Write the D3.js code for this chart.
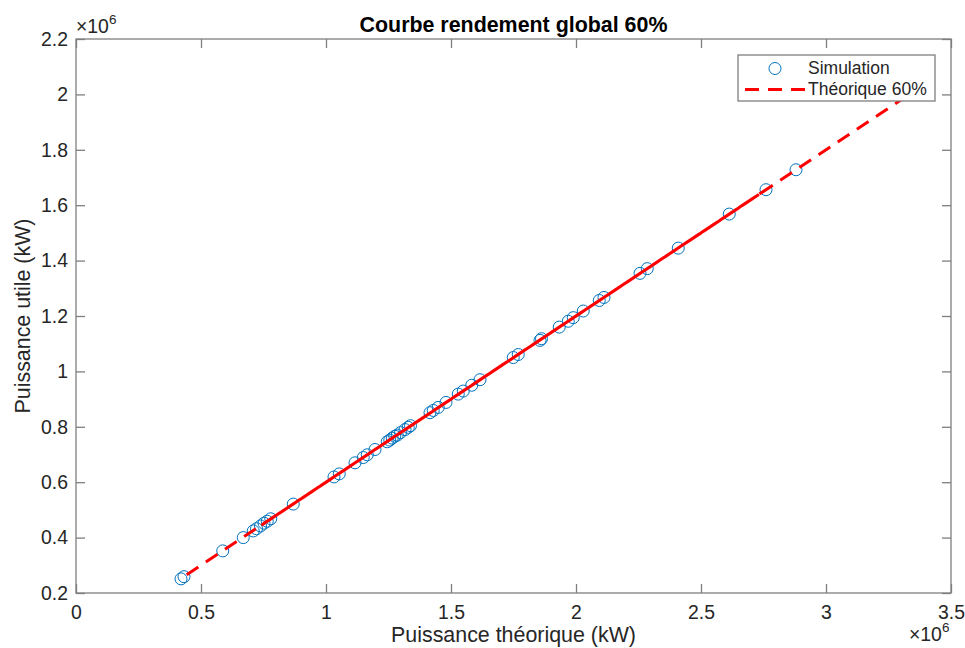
<!DOCTYPE html>
<html>
<head>
<meta charset="utf-8">
<script src="https://cdn.jsdelivr.net/npm/d3@7"></script>
<style>
  body { margin: 0; background: #fff; }
  svg { display: block; font-family: "Liberation Sans", Arial, Helvetica, sans-serif; }
  .tick text { fill: #262626; font-size: 19.4px; }
  .tick line { stroke: #7f7f7f; stroke-width: 1.3; }
  .domain { display: none; }
</style>
</head>
<body>
<svg id="chart" width="965" height="648"></svg>
<script>
// Values in units of 10^6 kW (the axes carry the x10^6 exponent)
const simX = [0.420, 0.432, 0.587, 0.669, 0.709, 0.722, 0.738, 0.752, 0.765, 0.779,
              0.869, 1.032, 1.053, 1.116, 1.149, 1.165, 1.196, 1.245, 1.255, 1.265,
              1.275, 1.285, 1.298, 1.316, 1.329, 1.338, 1.416, 1.429, 1.449, 1.480,
              1.529, 1.549, 1.583, 1.616, 1.749, 1.769, 1.856, 1.862, 1.933, 1.969,
              1.989, 2.029, 2.093, 2.112, 2.256, 2.285, 2.409, 2.613, 2.760, 2.880];
const simY = [0.251, 0.259, 0.352, 0.400, 0.424, 0.432, 0.442, 0.452, 0.459, 0.468,
              0.521, 0.619, 0.630, 0.670, 0.689, 0.699, 0.718, 0.746, 0.752, 0.759,
              0.766, 0.770, 0.779, 0.790, 0.798, 0.804, 0.851, 0.859, 0.870, 0.888,
              0.918, 0.929, 0.950, 0.970, 1.050, 1.061, 1.112, 1.118, 1.160, 1.181,
              1.194, 1.218, 1.256, 1.267, 1.354, 1.371, 1.445, 1.568, 1.656, 1.728];

// Theoretical 60% curve, vertices in the (unsorted) order it was traced
const theoX = [3.40, 0.73, 2.76, 0.74, 2.70, 0.75, 2.74, 0.77, 2.72, 0.43];
const theoY = [2.040, 0.438, 1.656, 0.444, 1.620, 0.450, 1.644, 0.462, 1.632, 0.258];

const xTicks = [0, 0.5, 1, 1.5, 2, 2.5, 3, 3.5];
const yTicks = [0.2, 0.4, 0.6, 0.8, 1, 1.2, 1.4, 1.6, 1.8, 2, 2.2];

const titleText = 'Courbe rendement global 60%';
const xLabel = 'Puissance théorique (kW)';
const yLabel = 'Puissance utile (kW)';
const legendLabels = ['Simulation', 'Théorique 60%'];

const svg = d3.select('#chart');
const margin = {top: 39, right: 14, bottom: 55, left: 76};
const width = +svg.attr('width'), height = +svg.attr('height');
const innerWidth = width - margin.left - margin.right;
const innerHeight = height - margin.top - margin.bottom;

const chart = svg.append('g')
    .attr('transform', `translate(${margin.left},${margin.top})`);

const xScale = d3.scaleLinear().domain([0, 3.5]).range([0, innerWidth]);
const yScale = d3.scaleLinear().domain([0.2, 2.2]).range([innerHeight, 0]);

// Axes: ticks point inward, mirrored on top and right (box on)
const fmt = d3.format('~g');
chart.append('g').attr('transform', `translate(0,${innerHeight})`)
    .call(d3.axisBottom(xScale).tickValues(xTicks).tickFormat(fmt).tickSize(-9).tickPadding(12));
chart.append('g')
    .call(d3.axisLeft(yScale).tickValues(yTicks).tickFormat(fmt).tickSize(-9).tickPadding(8));
chart.append('g')
    .call(d3.axisTop(xScale).tickValues(xTicks).tickSize(-9))
    .call(g => g.selectAll('text').remove());
chart.append('g').attr('transform', `translate(${innerWidth},0)`)
    .call(d3.axisRight(yScale).tickValues(yTicks).tickSize(-9))
    .call(g => g.selectAll('text').remove());

chart.append('rect')
    .attr('width', innerWidth).attr('height', innerHeight)
    .attr('fill', 'none').attr('stroke', '#7f7f7f').attr('stroke-width', 1.3);

// Simulation markers
const sim = simX.map((x, i) => ({x, y: simY[i]}));
chart.selectAll('circle.sim').data(sim).join('circle')
    .attr('class', 'sim')
    .attr('cx', d => xScale(d.x))
    .attr('cy', d => yScale(d.y))
    .attr('r', 6)
    .attr('fill', 'none')
    .attr('stroke', '#0072BD')
    .attr('stroke-width', 1);

// Theoretical line on top
const theo = theoX.map((x, i) => ({x, y: theoY[i]}));
const lineGen = d3.line().x(d => xScale(d.x)).y(d => yScale(d.y));
chart.append('path')
    .datum(theo)
    .attr('d', lineGen)
    .attr('fill', 'none')
    .attr('stroke', '#ff0000')
    .attr('stroke-width', 3)
    .attr('stroke-dasharray', '14,9');

// Exponent labels
const expo = (x, y) => {
    const t = svg.append('text').attr('x', x).attr('y', y)
        .attr('fill', '#262626').style('font-size', '19.4px');
    t.append('tspan').text('×10');
    t.append('tspan').text('6').attr('dy', -9).style('font-size', '13.5px');
};
expo(margin.left, 32.5);
expo(909, 641);

// Title and axis labels
svg.append('text')
    .attr('x', margin.left + innerWidth / 2).attr('y', 32)
    .attr('text-anchor', 'middle')
    .style('font-size', '21.4px').style('font-weight', 'bold')
    .attr('fill', '#000')
    .text(titleText);

svg.append('text')
    .attr('x', margin.left + innerWidth / 2).attr('y', 642)
    .attr('text-anchor', 'middle')
    .style('font-size', '21.4px').attr('fill', '#262626')
    .text(xLabel);

svg.append('text')
    .attr('transform', `translate(30,${margin.top + innerHeight / 2}) rotate(-90)`)
    .attr('text-anchor', 'middle')
    .style('font-size', '21.4px').attr('fill', '#262626')
    .text(yLabel);

// Legend
const legend = svg.append('g').attr('transform', 'translate(738,55)');
legend.append('rect')
    .attr('width', 197).attr('height', 46)
    .attr('fill', '#fff').attr('stroke', '#7f7f7f').attr('stroke-width', 1.3);
legend.append('circle')
    .attr('cx', 37).attr('cy', 13.5).attr('r', 6)
    .attr('fill', 'none').attr('stroke', '#0072BD').attr('stroke-width', 1);
legend.append('line')
    .attr('x1', 7).attr('x2', 67).attr('y1', 34.5).attr('y2', 34.5)
    .attr('stroke', '#ff0000').attr('stroke-width', 3).attr('stroke-dasharray', '14,9');
legend.selectAll('text.leg').data(legendLabels).join('text')
    .attr('class', 'leg')
    .attr('x', 70)
    .attr('y', (d, i) => 19 + i * 21)
    .style('font-size', '17.5px').attr('fill', '#262626')
    .text(d => d);
</script>
</body>
</html>
